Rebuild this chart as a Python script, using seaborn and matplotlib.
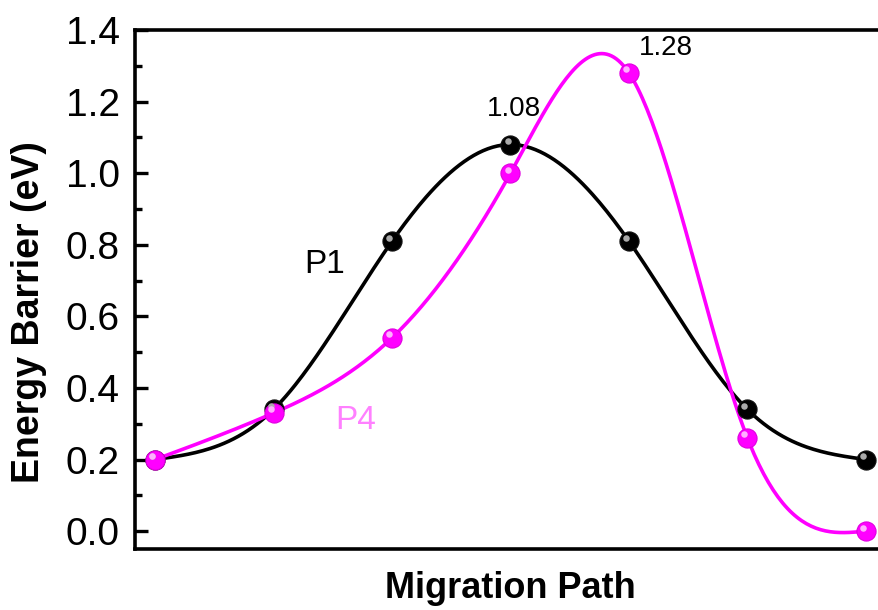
import numpy as np
import pandas as pd
import matplotlib
matplotlib.use("Agg")
import matplotlib.pyplot as plt
import seaborn as sns

# ---- data ----
steps = [1, 2, 3, 4, 5, 6, 7]
p1_energy = [0.20, 0.34, 0.81, 1.08, 0.81, 0.34, 0.20]
p4_energy = [0.20, 0.33, 0.54, 1.00, 1.28, 0.26, 0.00]
series_names = ["P1", "P4"]
peak_labels = ["1.08", "1.28"]
yticks = [0.0, 0.2, 0.4, 0.6, 0.8, 1.0, 1.2, 1.4]


def natural_spline(x, y, n=300):
    x = np.asarray(x, float)
    y = np.asarray(y, float)
    k = len(x)
    h = np.diff(x)
    A = np.zeros((k, k))
    b = np.zeros(k)
    A[0, 0] = A[-1, -1] = 1
    for i in range(1, k - 1):
        A[i, i - 1] = h[i - 1]
        A[i, i] = 2 * (h[i - 1] + h[i])
        A[i, i + 1] = h[i]
        b[i] = 6 * ((y[i + 1] - y[i]) / h[i] - (y[i] - y[i - 1]) / h[i - 1])
    M = np.linalg.solve(A, b)
    xs = np.linspace(x[0], x[-1], n)
    ys = np.empty_like(xs)
    for j, t in enumerate(xs):
        i = min(np.searchsorted(x, t, side="right") - 1, k - 2)
        a = x[i + 1] - t
        c = t - x[i]
        ys[j] = (M[i] * a**3 / (6 * h[i]) + M[i + 1] * c**3 / (6 * h[i])
                 + (y[i] / h[i] - M[i] * h[i] / 6) * a
                 + (y[i + 1] / h[i] - M[i + 1] * h[i] / 6) * c)
    return xs, ys


sns.set_style("ticks")
plt.rcParams["font.family"] = ["Liberation Sans", "DejaVu Sans"]
plt.rcParams["text.color"] = "black"
plt.rcParams["axes.labelcolor"] = "black"
plt.rcParams["ytick.color"] = "black"
plt.rcParams["axes.edgecolor"] = "black"

fig = plt.figure(figsize=(8.79, 6.10), dpi=100)
W, H = 879, 610
left, right, top, bottom = 135, 886, 30, 549
ax = fig.add_axes([left / W, 1 - bottom / H, (right - left) / W, (bottom - top) / H])

colors = {"P1": "#000000", "P4": "#ff00ff"}
rows = []
pts = []
for name, vals in zip(series_names, [p1_energy, p4_energy]):
    xs, ys = natural_spline(steps, vals)
    rows.append(pd.DataFrame({"x": xs, "y": ys, "series": name}))
    pts.append(pd.DataFrame({"x": steps, "y": vals, "series": name}))
curve = pd.concat(rows, ignore_index=True)
points = pd.concat(pts, ignore_index=True)

sns.lineplot(data=curve, x="x", y="y", hue="series", palette=colors,
             linewidth=2.6, legend=False, ax=ax, sort=False, estimator=None)
edge = {"P1": "#111111", "P4": "#e000e0"}
for name in series_names:
    sub = points[points.series == name]
    sns.scatterplot(data=sub, x="x", y="y", color=colors[name], s=190,
                    edgecolor=edge[name], linewidth=0.8, legend=False, ax=ax, zorder=5)
    hl = "#aaaaaa" if name == "P1" else "#ffb0ff"
    ax.scatter(np.array(sub.x) - 0.025, np.array(sub.y) + 0.01, s=22,
               color=hl, zorder=6, linewidths=0)

ax.set_xlim(1 - 0.17, 7 + 0.17)
ax.set_ylim(-0.05, 1.4)
ax.set_xticks([])
ax.set_yticks(yticks)
ax.set_yticklabels([f"{v:.1f}" for v in yticks])
ax.set_yticks(np.arange(0.1, 1.4, 0.2), minor=True)
ax.tick_params(axis="y", which="major", direction="in", length=9, width=2.4,
               labelsize=28, pad=11, colors="black")
ax.tick_params(axis="y", which="minor", direction="in", length=5, width=2.4)
for sp in ax.spines.values():
    sp.set_linewidth(2.6)
    sp.set_color("black")
ax.spines["right"].set_visible(False)

ax.set_xlabel("Migration Path", fontsize=26, fontweight="bold", labelpad=16)
ax.set_ylabel("Energy Barrier (eV)", fontsize=27, fontweight="bold")
ax.yaxis.set_label_coords(-(135 - 47) / (886 - 135), (549 - 312) / (549 - 30))

ax.text(4.03, 1.18, peak_labels[0], fontsize=20, ha="center", va="center")
ax.text(5.31, 1.349, peak_labels[1], fontsize=20, ha="center", va="center")
ax.text(2.43, 0.745, series_names[0], fontsize=24, ha="center", va="center", color="black")
ax.text(2.69, 0.31, series_names[1], fontsize=24, ha="center", va="center", color="#ff80ff")

fig.savefig("out.png", dpi=100)
